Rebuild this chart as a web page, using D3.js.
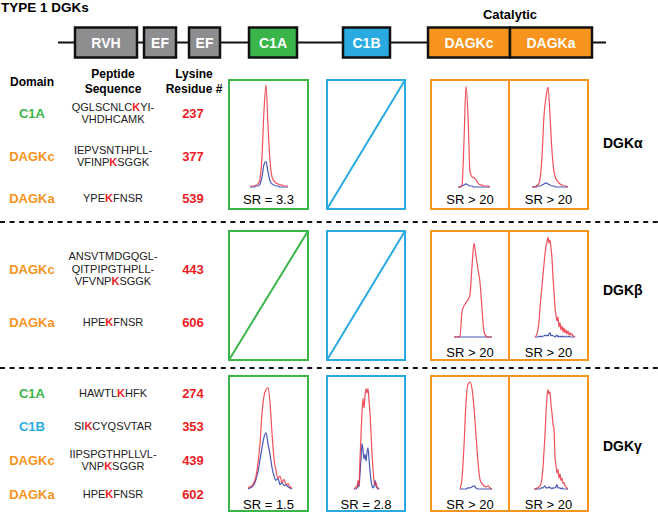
<!DOCTYPE html>
<html><head><meta charset="utf-8">
<script src="https://cdn.jsdelivr.net/npm/d3@7"></script>
<style>body{margin:0;background:#fff} svg{display:block;font-family:"Liberation Sans",Arial,sans-serif}</style>
</head><body><svg id="c" width="658" height="513"></svg>
<script>
// ---------- data ----------
const titleText = "TYPE 1 DGKs";
const domainNames = ["RVH","EF","EF","C1A","C1B","DAGKc","DAGKa"];
const isoforms = ["DGKα","DGKβ","DGKγ"];
const panelDomains = ["C1A","C1B","DAGKc","DAGKa"];
const peptideDomains = [["C1A","DAGKc","DAGKa"],["DAGKc","DAGKa"],["C1A","C1B","DAGKc","DAGKa"]];
const peptideSeqs = [
  [["QGLSCNLC[K]YI-","VHDHCAMK"],["IEPVSNTHPLL-","VFINP[K]SGGK"],["YPE[K]FNSR"]],
  [["ANSVTMDGQGL-","QITPIPGTHPLL-","VFVNP[K]SGGK"],["HPE[K]FNSR"]],
  [["HAWTL[K]HFK"],["SI[K]CYQSVTAR"],["IIPSPGTHPLLVL-","VNP[K]SGGR"],["HPE[K]FNSR"]]
];
const lysineResidues = [[237,377,539],[443,606],[274,353,439,602]];
const srLabels = [["SR = 3.3",null,"SR > 20","SR > 20"],[null,null,"SR > 20","SR > 20"],["SR = 1.5","SR = 2.8","SR > 20","SR > 20"]];

// relative ion intensities (red / blue traces)
const alphaC1A_red   = [0.01,0.01,0.01,0.02,0.03,0.08,0.3,0.75,1.0,0.6,0.26,0.1,0.06,0.04,0.03,0.02,0.02,0.01,0.01,0.01];
const alphaC1A_blue  = [0,0,0,0.01,0.01,0.03,0.1,0.22,0.25,0.15,0.06,0.03,0.02,0.01,0.01,0,0,0,0,0];
const alphaDAGKc_red = [0,0,0.02,0.45,0.99,0.7,0.15,0.1,0.09,0.07,0.04,0.02,0.02,0.01,0.01,0.01,0];
const alphaDAGKc_blue= [0,0,0.01,0.02,0.03,0.02,0.01,0.01,0,0,0,0,0,0,0,0,0];
const alphaDAGKa_red = [0,0,0.01,0.02,0.08,0.3,0.7,0.88,0.98,0.7,0.35,0.15,0.08,0.05,0.03,0.02,0.01,0.01,0];
const alphaDAGKa_blue= [0,0,0,0.01,0.01,0.02,0.03,0.04,0.03,0.02,0.01,0.01,0,0,0,0,0,0,0];
const betaDAGKc_red  = [0,0,0,0.01,0.25,0.31,0.34,0.37,0.42,0.7,0.93,0.8,0.67,0.54,0.28,0.05,0.01,0,0,0];
const betaDAGKc_blue = [0,0,0,0,0,0,0,0,0,0,0,0,0,0,0,0,0,0,0,0];
const betaDAGKa_red  = [0,0.01,0.03,0.08,0.15,0.29,0.4,0.5,0.62,0.72,0.82,0.9,0.94,0.99,0.93,0.96,0.88,0.78,0.59,0.45,0.29,0.22,0.16,0.2,0.1,0.14,0.07,0.11,0.05,0.09,0.04,0.07,0.03,0.06,0.02,0.04,0.02,0.03,0.01,0.01,0];
const betaDAGKa_blue = [0,0,0,0,0.01,0,0.01,0,0.01,0.01,0.02,0.01,0.02,0.01,0.03,0.04,0.01,0.02,0.01,0.01,0,0.01,0.02,0,0.01,0,0.01,0,0.01,0,0,0.01,0,0,0.01,0,0,0,0,0,0];
const gammaC1A_red   = [0.01,0.02,0.03,0.06,0.12,0.24,0.42,0.7,0.86,0.92,0.94,0.8,0.52,0.28,0.17,0.1,0.12,0.06,0.09,0.04,0.05,0.02,0.01];
const gammaC1A_blue  = [0,0.01,0.02,0.04,0.09,0.16,0.27,0.38,0.48,0.52,0.42,0.32,0.2,0.12,0.08,0.1,0.04,0.06,0.03,0.04,0.02,0.01,0];
const gammaC1B_red   = [0,0.01,0.02,0.02,0.08,0.03,0.28,0.5,0.7,0.84,0.75,0.86,0.93,0.89,0.93,0.82,0.7,0.52,0.33,0.19,0.08,0.04,0.06,0.02,0.01,0];
const gammaC1B_blue  = [0,0,0,0.01,0.04,0.02,0.14,0.28,0.42,0.36,0.28,0.32,0.26,0.34,0.38,0.28,0.17,0.08,0.03,0.01,0.02,0.08,0.03,0.01,0,0];
const gammaDAGKc_red = [0,0.1,0.4,0.8,0.97,0.99,0.93,0.75,0.5,0.25,0.09,0.05,0.03,0.02,0.03,0.01,0];
const gammaDAGKc_blue= [0,0,0,0,0.01,0.01,0.02,0.03,0.01,0,0,0,0,0,0,0,0];
const gammaDAGKa_red = [0,0,0,0.01,0.01,0.02,0.03,0.05,0.1,0.2,0.35,0.5,0.7,0.85,0.92,0.88,0.9,0.78,0.7,0.6,0.55,0.3,0.22,0.15,0.18,0.1,0.14,0.08,0.1,0.05,0.06,0.03,0.02,0.01,0];
const gammaDAGKa_blue= [0,0,0,0,0,0,0,0.01,0.01,0.01,0.02,0.03,0.01,0.01,0.01,0.02,0.01,0.01,0,0.01,0.01,0.01,0.02,0.04,0.01,0.01,0.01,0,0.01,0,0,0,0,0,0];

const redTraces  = [[alphaC1A_red,null,alphaDAGKc_red,alphaDAGKa_red],[null,null,betaDAGKc_red,betaDAGKa_red],[gammaC1A_red,gammaC1B_red,gammaDAGKc_red,gammaDAGKa_red]];
const blueTraces = [[alphaC1A_blue,null,alphaDAGKc_blue,alphaDAGKa_blue],[null,null,betaDAGKc_blue,betaDAGKa_blue],[gammaC1A_blue,gammaC1B_blue,gammaDAGKc_blue,gammaDAGKa_blue]];

// ---------- layout / style ----------
const RED="#ed1c24", GREEN="#39b54a", BLUE="#29abe2", ORANGE="#f7941d", GRAY="#8e8e90";
const colorOf = {RVH:GRAY, EF:GRAY, C1A:GREEN, C1B:BLUE, DAGKc:ORANGE, DAGKa:ORANGE};
const svg = d3.select("#c");

svg.append("text").attr("x",1).attr("y",12).attr("font-size",13.5).attr("font-weight","bold").text(titleText);

// domain map
svg.append("line").attr("x1",58).attr("x2",606).attr("y1",42.5).attr("y2",42.5).attr("stroke","#111").attr("stroke-width",2);
const boxX=[75,144,189,249,343,428,510], boxW=[62,32,31,48,47,82,82];
domainNames.forEach((d,i)=>{
  svg.append("rect").attr("x",boxX[i]).attr("y",27.5).attr("width",boxW[i]).attr("height",30)
    .attr("fill",colorOf[d]).attr("stroke","#111").attr("stroke-width",2.5);
  svg.append("text").attr("x",boxX[i]+boxW[i]/2).attr("y",42.5).attr("dy","0.36em").attr("text-anchor","middle")
    .attr("fill","#fff").attr("font-weight","bold").attr("font-size",14).text(d);
});
svg.append("text").attr("x",510).attr("y",19).attr("text-anchor","middle").attr("font-weight","bold").attr("font-size",13).text("Catalytic");

// column headers
const hdr=(x,y,t)=>svg.append("text").attr("x",x).attr("y",y).attr("text-anchor","middle").attr("font-weight","bold").attr("font-size",12).text(t);
hdr(32,86,"Domain"); hdr(113,78,"Peptide"); hdr(113,93,"Sequence"); hdr(194,78,"Lysine"); hdr(194,93,"Residue #");

// separators
[222,368].forEach(y=>svg.append("line").attr("x1",0).attr("x2",658).attr("y1",y).attr("y2",y)
  .attr("stroke","#111").attr("stroke-width",2).attr("stroke-dasharray","5,4.6"));

const sections=[{top:80,bottom:209,base:187,srOff:5},{top:231,bottom:360,base:337,srOff:3.5},{top:376,bottom:511,base:489,srOff:2.5}];
const rowY=[[113,156,198],[269,322],[393,426,460,494]];
const labelY=[143,290,446];
const colX={C1A:[229,308],C1B:[327,405],DAGKc:[431,509],DAGKa:[509,588]};
const traceSpan=[[[21,59],null,[27,59],[23,59]],[null,null,[23,61],[26,66]],[[19,63],[27,52],[29,61],[25,59]]];

sections.forEach((sec,s)=>{
  // table rows
  peptideDomains[s].forEach((dom,r)=>{
    const cy=rowY[s][r];
    svg.append("text").attr("x",32).attr("y",cy).attr("dy","0.36em").attr("text-anchor","middle")
      .attr("font-weight","bold").attr("font-size",13).attr("fill",colorOf[dom]).text(dom);
    const lines=peptideSeqs[s][r], lh=12.5, y0=cy-(lines.length-1)*lh/2;
    lines.forEach((ln,k)=>{
      const t=svg.append("text").attr("x",113).attr("y",y0+k*lh).attr("dy","0.36em").attr("text-anchor","middle").attr("font-size",11).attr("fill","#222");
      ln.split(/(\[K\])/).filter(p=>p.length).forEach(p=>{
        if(p==="[K]") t.append("tspan").attr("fill",RED).attr("font-weight","bold").text("K");
        else t.append("tspan").text(p);
      });
    });
    svg.append("text").attr("x",193).attr("y",cy).attr("dy","0.36em").attr("text-anchor","middle")
      .attr("font-weight","bold").attr("font-size",13).attr("fill",RED).text(lysineResidues[s][r]);
  });
  svg.append("text").attr("x",603).attr("y",labelY[s]).attr("dy","0.36em").attr("font-weight","bold").attr("font-size",14).text(isoforms[s]);

  // panels
  panelDomains.forEach((dom,p)=>{
    const [x0,x1]=colX[dom], col=colorOf[dom];
    svg.append("rect").attr("x",x0).attr("y",sec.top).attr("width",x1-x0).attr("height",sec.bottom-sec.top)
      .attr("fill","none").attr("stroke",col).attr("stroke-width",2);
    const red=redTraces[s][p], blue=blueTraces[s][p];
    if(!red){
      svg.append("line").attr("x1",x0).attr("y1",sec.bottom).attr("x2",x1).attr("y2",sec.top).attr("stroke",col).attr("stroke-width",2);
      return;
    }
    const span=traceSpan[s][p];
    const x=d3.scaleLinear().domain([0,red.length-1]).range([x0+span[0],x0+span[1]]);
    const y=d3.scaleLinear().domain([0,1]).range([sec.base,sec.top+5]);
    const line=d3.line().x((d,i)=>x(i)).y(d=>y(d)).curve(d3.curveMonotoneX);
    svg.append("path").datum(blue).attr("d",line).attr("fill","none").attr("stroke","#3346b0").attr("stroke-width",1.2).attr("opacity",0.9);
    svg.append("path").datum(red).attr("d",line).attr("fill","none").attr("stroke","#ef3340").attr("stroke-width",1.2).attr("opacity",0.85);
    if(srLabels[s][p]) svg.append("text").attr("x",(x0+x1)/2).attr("y",sec.bottom-sec.srOff).attr("text-anchor","middle").attr("font-size",13).text(srLabels[s][p]);
  });
});
</script></body></html>
